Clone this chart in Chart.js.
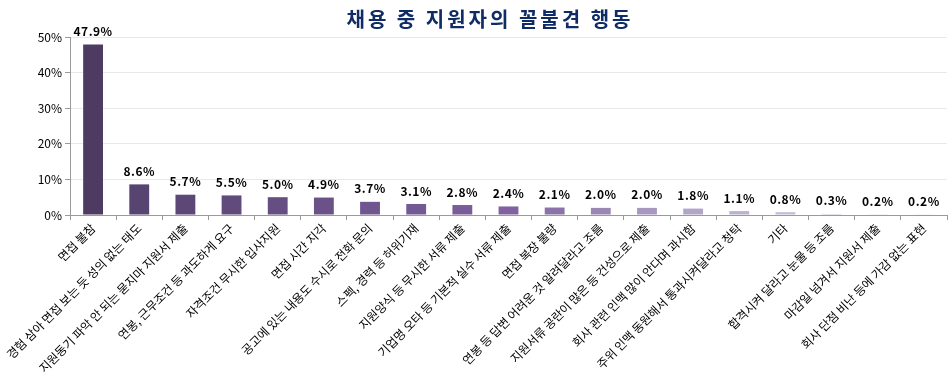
<!DOCTYPE html>
<html>
<head>
<meta charset="utf-8">
<script src="https://cdn.jsdelivr.net/npm/chart.js@4"></script>
<style>
  html, body { margin: 0; padding: 0; background: #fff; }
  #wrap { width: 951px; height: 381px; }
</style>
</head>
<body>
<div id="wrap"><canvas id="c" width="951" height="381"></canvas></div>
<script>
const titleText = "채용 중 지원자의 꼴불견 행동";
const categories = [
  "면접 불참",
  "경험 삼아 면접 보는 듯 성의 없는 태도",
  "지원동기 파악 안 되는 묻지마 지원서 제출",
  "연봉, 근무조건 등 과도하게 요구",
  "자격조건 무시한 입사지원",
  "면접 시간 지각",
  "공고에 있는 내용도 수시로 전화 문의",
  "스펙, 경력 등 허위기재",
  "지원양식 등 무시한 서류 제출",
  "기업명 오타 등 기본적 실수 서류 제출",
  "면접 복장 불량",
  "연봉 등 답변 어려운 것 알려달라고 조름",
  "지원서류 공란이 많은 등 건성으로 제출",
  "회사 관련 인맥 많이 안다며 과시함",
  "주위 인맥 동원해서 통과시켜달라고 청탁",
  "기타",
  "합격시켜 달라고 눈물 등 조름",
  "마감일 넘겨서 지원서 제출",
  "회사 단점 비난 등에 가감 없는 표현"
];
const values = [47.9, 8.6, 5.7, 5.5, 5.0, 4.9, 3.7, 3.1, 2.8, 2.4, 2.1, 2.0, 2.0, 1.8, 1.1, 0.8, 0.3, 0.2, 0.2];
const yTicks = [0, 10, 20, 30, 40, 50];

const barColors = [
  "#4E3B62", "#574470", "#5C4776", "#614B7C", "#654E82", "#6A5288",
  "#6F568E", "#745A94", "#795D99", "#7F629F", "#8B72A8", "#9A87B3",
  "#A898BF", "#B2A6C8", "#BDB1CF", "#C5BCD6", "#CDC6DC", "#D3CEE1", "#D8D3E4"
];

const FONT = "'Noto Sans CJK KR', 'Noto Sans', sans-serif";

const titlePlugin = {
  id: 'titleDraw',
  afterDraw(chart) {
    const ctx = chart.ctx;
    ctx.save();
    ctx.font = "bold 20px " + FONT;
    ctx.fillStyle = "#102C66";
    ctx.textAlign = "center";
    ctx.textBaseline = "middle";
    if ('letterSpacing' in ctx) ctx.letterSpacing = "3px";
    ctx.fillText(titleText, 490, 19);
    ctx.restore();
  }
};

const valueLabels = {
  id: 'valueLabels',
  afterDatasetsDraw(chart) {
    const ctx = chart.ctx;
    const meta = chart.getDatasetMeta(0);
    ctx.save();
    ctx.font = "bold 12px " + FONT;
    ctx.fillStyle = "#000";
    ctx.textAlign = "center";
    ctx.textBaseline = "bottom";
    if ('letterSpacing' in ctx) ctx.letterSpacing = "0.5px";
    meta.data.forEach((bar, i) => {
      ctx.fillText(values[i].toFixed(1) + "%", bar.x, bar.y - 7);
    });
    ctx.restore();
  }
};

new Chart(document.getElementById('c'), {
  type: 'bar',
  data: {
    labels: categories,
    datasets: [{
      data: values,
      backgroundColor: barColors,
      borderWidth: 0,
      categoryPercentage: 1.0,
      barPercentage: 0.43
    }]
  },
  options: {
    responsive: false,
    animation: false,
    layout: { padding: { top: 37, right: 4, left: 0, bottom: 0 } },
    plugins: {
      legend: { display: false },
      tooltip: { enabled: false },
      title: { display: false }
    },
    scales: {
      x: {
        grid: {
          offset: true,
          drawOnChartArea: false,
          drawTicks: true,
          tickLength: 5,
          color: "#9A9A9A"
        },
        border: { color: "#9A9A9A", width: 1 },
        ticks: {
          autoSkip: false,
          minRotation: 45,
          maxRotation: 45,
          padding: 1,
          color: "#000",
          font: { family: FONT, size: 12 }
        },
        afterFit(scale) { scale.height = 166; }
      },
      y: {
        min: 0,
        max: 50,
        afterBuildTicks(scale) { scale.ticks = yTicks.map(v => ({ value: v })); },
        grid: {
          color: "#E8E8E8",
          drawTicks: true,
          tickLength: 5,
          tickColor: "#9A9A9A"
        },
        border: { color: "#9A9A9A", width: 1 },
        ticks: {
          padding: 3,
          color: "#000",
          font: { family: FONT, size: 12 },
          callback: v => v + "%"
        },
        afterFit(scale) { scale.width = 70; }
      }
    }
  },
  plugins: [titlePlugin, valueLabels]
});
</script>
</body>
</html>
